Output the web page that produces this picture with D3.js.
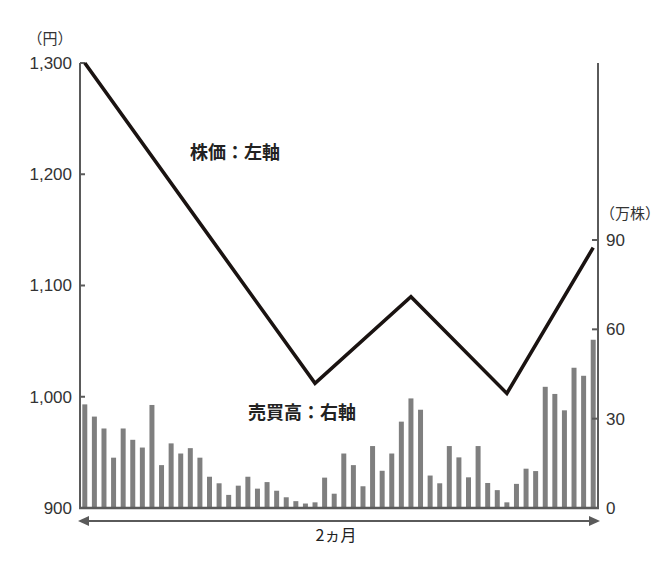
<!DOCTYPE html>
<html><head><meta charset="utf-8">
<script src="https://cdn.jsdelivr.net/npm/d3@7"></script>
<style>
html,body{margin:0;padding:0;background:#fff;}
svg{display:block;}
</style></head>
<body>
<svg id="c" width="670" height="561"></svg>
<script>
// ---- data ----
const volume = [34.8,30.7,26.7,16.9,26.7,22.9,20.3,34.6,14.4,21.7,18.3,20.1,16.9,10.5,8.3,4.4,7.5,10.5,6.5,8.7,5.8,3.6,2.3,1.5,1.9,10.2,4.8,18.3,14.4,7.3,20.8,12.5,18.3,29.0,36.8,33.0,10.9,8.3,20.8,17.0,10.3,20.8,8.4,6.0,1.9,8.1,13.2,12.4,40.7,38.3,32.8,47.1,44.4,56.5];
const days = volume.map((d,i)=>i);
const priceDays = [0,24,34,44,53];
const priceValues = [1300,1012,1090,1003,1134];
const leftTicks = [900,1000,1100,1200,1300];
const rightTicks = [0,30,60,90];
const leftUnit = "（円）";
const rightUnit = "（万株）";
const priceLabel = "株価：左軸";
const volumeLabel = "売買高：右軸";
const periodLabel = "2ヵ月";

// ---- layout ----
const L = 80, R = 598, T = 63, B = 508;
const svg = d3.select("#c");
const axisColor = "#5a5a5a";
const numFont = "'Liberation Sans Narrow','Liberation Sans',Arial,sans-serif";
const jpFont = "'Noto Sans CJK JP','Noto Sans',sans-serif";

const x = d3.scaleBand().domain(days).range([L, R]).paddingInner(0.48).paddingOuter(0.24);
const yL = d3.scaleLinear().domain([900, 1300]).range([B, T]);
const yR = d3.scaleLinear().domain([0, 90]).range([B, B - 268]);

// bars
svg.append("g").selectAll("rect").data(volume).join("rect")
  .attr("x", (d,i) => x(i))
  .attr("width", x.bandwidth())
  .attr("y", d => yR(d))
  .attr("height", d => yR(0) - yR(d))
  .attr("fill", "#7f7f7f");

// left axis
const gL = svg.append("g").attr("transform", `translate(${L},0)`)
  .call(d3.axisLeft(yL).tickValues(leftTicks).tickSize(0).tickPadding(8).tickFormat(d3.format(",")));
gL.select(".domain").remove();
gL.selectAll("text").attr("font-family", numFont).attr("font-size", 17).attr("fill", "#333");
svg.append("g").selectAll("line").data(leftTicks).join("line")
  .attr("x1", L).attr("x2", L + 5).attr("y1", d => yL(d)).attr("y2", d => yL(d))
  .attr("stroke", axisColor).attr("stroke-width", 2);

// right axis
const gR = svg.append("g").attr("transform", `translate(${R},0)`)
  .call(d3.axisRight(yR).tickValues(rightTicks).tickSize(0).tickPadding(8));
gR.select(".domain").remove();
gR.selectAll("text").attr("font-family", numFont).attr("font-size", 17).attr("fill", "#333");
svg.append("g").selectAll("line").data(rightTicks.filter(d => d > 0)).join("line")
  .attr("x1", R - 6).attr("x2", R).attr("y1", d => yR(d)).attr("y2", d => yR(d))
  .attr("stroke", axisColor).attr("stroke-width", 2);

// axis lines
svg.append("line").attr("x1", L).attr("x2", L).attr("y1", T).attr("y2", B)
  .attr("stroke", axisColor).attr("stroke-width", 2);
svg.append("line").attr("x1", R).attr("x2", R).attr("y1", T).attr("y2", B)
  .attr("stroke", axisColor).attr("stroke-width", 2);
svg.append("line").attr("x1", L - 1).attr("x2", R + 1).attr("y1", B).attr("y2", B)
  .attr("stroke", axisColor).attr("stroke-width", 2.5);

// price line
const line = d3.line().x(d => x(d[0]) + x.bandwidth() / 2).y(d => yL(d[1]));
svg.append("path").datum(priceDays.map((d,i) => [d, priceValues[i]]))
  .attr("d", line).attr("fill", "none").attr("stroke", "#1a1311")
  .attr("stroke-width", 3.6).attr("stroke-linejoin", "miter");

// unit labels
svg.append("text").attr("x", 50).attr("y", 44).attr("text-anchor", "middle")
  .attr("font-family", jpFont).attr("font-size", 15).attr("fill", "#333").text(leftUnit);
svg.append("text").attr("x", 630).attr("y", 219).attr("text-anchor", "middle")
  .attr("font-family", jpFont).attr("font-size", 15).attr("fill", "#333").text(rightUnit);

// series labels
svg.append("text").attr("x", 235).attr("y", 159).attr("text-anchor", "middle")
  .attr("font-family", jpFont).attr("font-size", 18).attr("font-weight", "bold")
  .attr("fill", "#222").text(priceLabel);
svg.append("text").attr("x", 302).attr("y", 419).attr("text-anchor", "middle")
  .attr("font-family", jpFont).attr("font-size", 18).attr("font-weight", "bold")
  .attr("fill", "#222").text(volumeLabel);

// period arrow
const ay = 521;
svg.append("line").attr("x1", L + 6).attr("x2", R - 6).attr("y1", ay).attr("y2", ay)
  .attr("stroke", axisColor).attr("stroke-width", 2);
svg.append("path").attr("d", `M${L-2},${ay} L${L+9},${ay-5} L${L+9},${ay+5} Z`).attr("fill", axisColor);
svg.append("path").attr("d", `M${R+2},${ay} L${R-9},${ay-5} L${R-9},${ay+5} Z`).attr("fill", axisColor);
svg.append("text").attr("x", 336).attr("y", 541).attr("text-anchor", "middle")
  .attr("font-family", jpFont).attr("font-size", 16).attr("fill", "#222").text(periodLabel);
</script>
</body></html>
